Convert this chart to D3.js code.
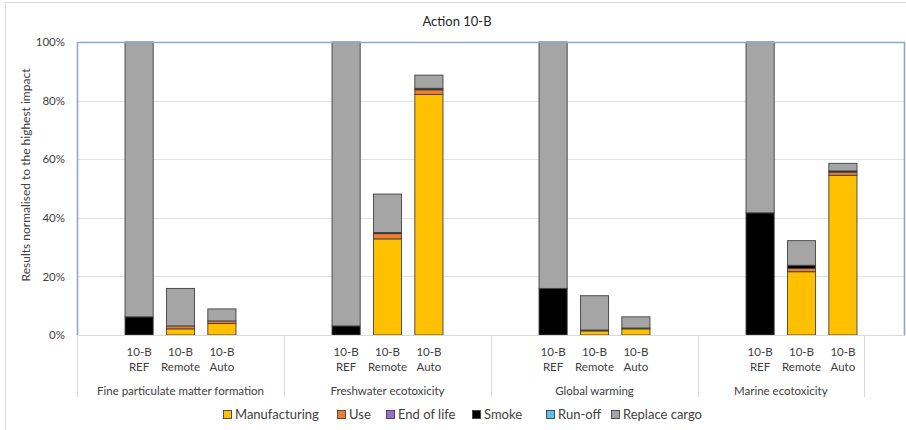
<!DOCTYPE html>
<html>
<head>
<meta charset="utf-8">
<script src="https://cdn.jsdelivr.net/npm/d3@7"></script>
<style>
  html, body { margin: 0; padding: 0; background: #fff; }
  svg { display: block; font-family: Lato, "Open Sans", sans-serif; }
</style>
</head>
<body>
<svg id="chart" width="906" height="430"></svg>
<script>
// Impact categories (outer axis level) and scenarios (inner level)
const groups = ["Fine particulate matter formation", "Freshwater ecotoxicity", "Global warming", "Marine ecotoxicity"];
const scenarios = ["REF", "Remote", "Auto"];
const scenarioPrefix = "10-B";

// Life-cycle stage contributions, % of highest impact, ordered group by group (REF, Remote, Auto)
const manufacturing = [0, 2.1, 3.9,   0, 32.8, 82.1,   0, 1.4, 2.1,   0, 21.6, 54.5];
const use           = [0, 1.0, 0.9,   0, 1.8, 1.6,     0, 0.3, 0.3,   0, 1.1, 1.1];
const endOfLife     = [0, 0, 0,       0, 0, 0,         0, 0, 0,       0, 0, 0];
const smoke         = [6.2, 0, 0,     3.1, 0.4, 0.5,   15.9, 0, 0,    41.7, 1.1, 0.4];
const runOff        = [0, 0, 0,       0, 0, 0,         0, 0, 0,       0, 0, 0];
const replaceCargo  = [93.8, 12.8, 4.1, 96.9, 13.1, 4.5, 84.1, 11.7, 3.8, 58.3, 8.4, 2.6];

const yTicks = [0, 20, 40, 60, 80, 100];

const seriesNames = ["Manufacturing", "Use", "End of life", "Smoke", "Run-off", "Replace cargo"];
const seriesValues = [manufacturing, use, endOfLife, smoke, runOff, replaceCargo];
const seriesColors = ["#FFC000", "#ED7D31", "#9E6BD6", "#000000", "#5BC0EB", "#A5A5A5"];

// Build the row table used by d3.stack
const rows = [];
groups.forEach((g, gi) => scenarios.forEach((s, si) => {
  const i = gi * scenarios.length + si;
  const row = { slot: g + "|" + s, group: g, scenario: s };
  seriesNames.forEach((n, k) => row[n] = seriesValues[k][i]);
  rows.push(row);
}));

// Category slots: each group has an empty slot before and after its three bars;
// the last group closes with one trailing empty slot outside its axis segment.
const slots = [];
const groupSlots = [];
groups.forEach((g, gi) => {
  const own = [g + "|pre", ...scenarios.map(s => g + "|" + s)];
  if (gi < groups.length - 1) own.push(g + "|post");
  groupSlots.push(own);
  slots.push(...own);
});
slots.push("trail");

const svg = d3.select("#chart");
const margin = { left: 77, right: 1, top: 42, bottom: 95 };
const W = 906, H = 430;
const plotBottom = H - margin.bottom;

const x = d3.scaleBand().domain(slots).range([margin.left, W - margin.right])
  .paddingInner(0.32).paddingOuter(0.16);
const y = d3.scaleLinear().domain([0, 100]).range([plotBottom, margin.top]);

// Outer chart frame
svg.append("rect").attr("x", 5.5).attr("y", 2.5).attr("width", 920).attr("height", 440)
  .attr("fill", "none").attr("stroke", "#D9D9D9").attr("stroke-width", 1);

// Title
svg.append("text").attr("x", 457).attr("y", 26).attr("text-anchor", "middle")
  .attr("font-size", 13).attr("fill", "#262626").text("Action 10-B");

// Gridlines
svg.append("g").selectAll("line").data(yTicks.filter(t => t > 0 && t < 100)).join("line")
  .attr("x1", margin.left).attr("x2", W - margin.right)
  .attr("y1", d => Math.round(y(d)) + 0.5).attr("y2", d => Math.round(y(d)) + 0.5)
  .attr("stroke", "#E3E3E3").attr("stroke-width", 1.2);

// Y axis tick labels
const yAxis = d3.axisLeft(y).tickValues(yTicks).tickFormat(d => d + "%").tickSize(0).tickPadding(12);
const gy = svg.append("g").attr("transform", `translate(${margin.left},0)`).call(yAxis);
gy.select(".domain").remove();
gy.selectAll("text").attr("font-size", 11.5).attr("fill", "#404040").attr("font-family", "Lato, sans-serif");

// Y axis title
svg.append("text").attr("transform", "translate(30,175) rotate(-90)")
  .attr("text-anchor", "middle").attr("font-size", 12).attr("fill", "#404040")
  .text("Results normalised to the highest impact");

// Stacked bars
const stack = d3.stack().keys(seriesNames);
const layers = stack(rows);
svg.append("g").selectAll("g").data(layers).join("g")
  .attr("fill", (d, i) => seriesColors[i])
  .selectAll("rect").data(d => d.filter(p => p[1] - p[0] > 0)).join("rect")
  .attr("x", d => x(d.data.slot))
  .attr("width", x.bandwidth())
  .attr("y", d => y(d[1]))
  .attr("height", d => y(d[0]) - y(d[1]))
  .attr("stroke", "#404040").attr("stroke-width", 0.9);

// Plot frame: bottom axis line in grey, other sides blue-grey
svg.append("line").attr("x1", margin.left).attr("x2", W - margin.right)
  .attr("y1", plotBottom + 0.5).attr("y2", plotBottom + 0.5)
  .attr("stroke", "#D9D9D9").attr("stroke-width", 1.2);
svg.append("path")
  .attr("d", `M${margin.left + 0.5},${plotBottom}V${margin.top + 0.5}H${W - margin.right - 0.5}V${plotBottom}`)
  .attr("fill", "none").attr("stroke", "#8FA8C4").attr("stroke-width", 1.6);

// Category axis: scenario labels on two lines
const catG = svg.append("g");
rows.forEach(r => {
  const cx = x(r.slot) + x.bandwidth() / 2;
  const t = catG.append("text").attr("text-anchor", "middle").attr("font-size", 11.5).attr("fill", "#404040");
  t.append("tspan").attr("x", cx).attr("y", plotBottom + 21).text(scenarioPrefix);
  t.append("tspan").attr("x", cx).attr("y", plotBottom + 36).text(r.scenario);
});

// Group separators and group labels
const step = x.step();
groupSlots.forEach((own, gi) => {
  const x0 = x(own[0]) - step * x.paddingInner() / 2;
  const x1 = x(own[own.length - 1]) + x.bandwidth() + step * x.paddingInner() / 2;
  if (gi === 0) {
    catG.append("line").attr("x1", Math.round(x0) + 0.5).attr("x2", Math.round(x0) + 0.5)
      .attr("y1", plotBottom).attr("y2", plotBottom + 62).attr("stroke", "#D9D9D9");
  }
  catG.append("line").attr("x1", Math.round(x1) + 0.5).attr("x2", Math.round(x1) + 0.5)
    .attr("y1", plotBottom).attr("y2", plotBottom + 62).attr("stroke", "#D9D9D9");
  catG.append("text").attr("x", (x0 + x1) / 2).attr("y", plotBottom + 60)
    .attr("text-anchor", "middle").attr("font-size", 11.5).attr("fill", "#404040")
    .text(groups[gi]);
});

// Legend
const legendX = [223, 337, 386, 472, 546, 611];
const lg = svg.append("g");
seriesNames.forEach((n, i) => {
  lg.append("rect").attr("x", legendX[i] + 0.5).attr("y", 410.5).attr("width", 8).attr("height", 8)
    .attr("fill", seriesColors[i]).attr("stroke", "#404040").attr("stroke-width", 0.9);
  lg.append("text").attr("x", legendX[i] + 12).attr("y", 419)
    .attr("font-size", 13).attr("fill", "#404040").text(n);
});
</script>
</body>
</html>
